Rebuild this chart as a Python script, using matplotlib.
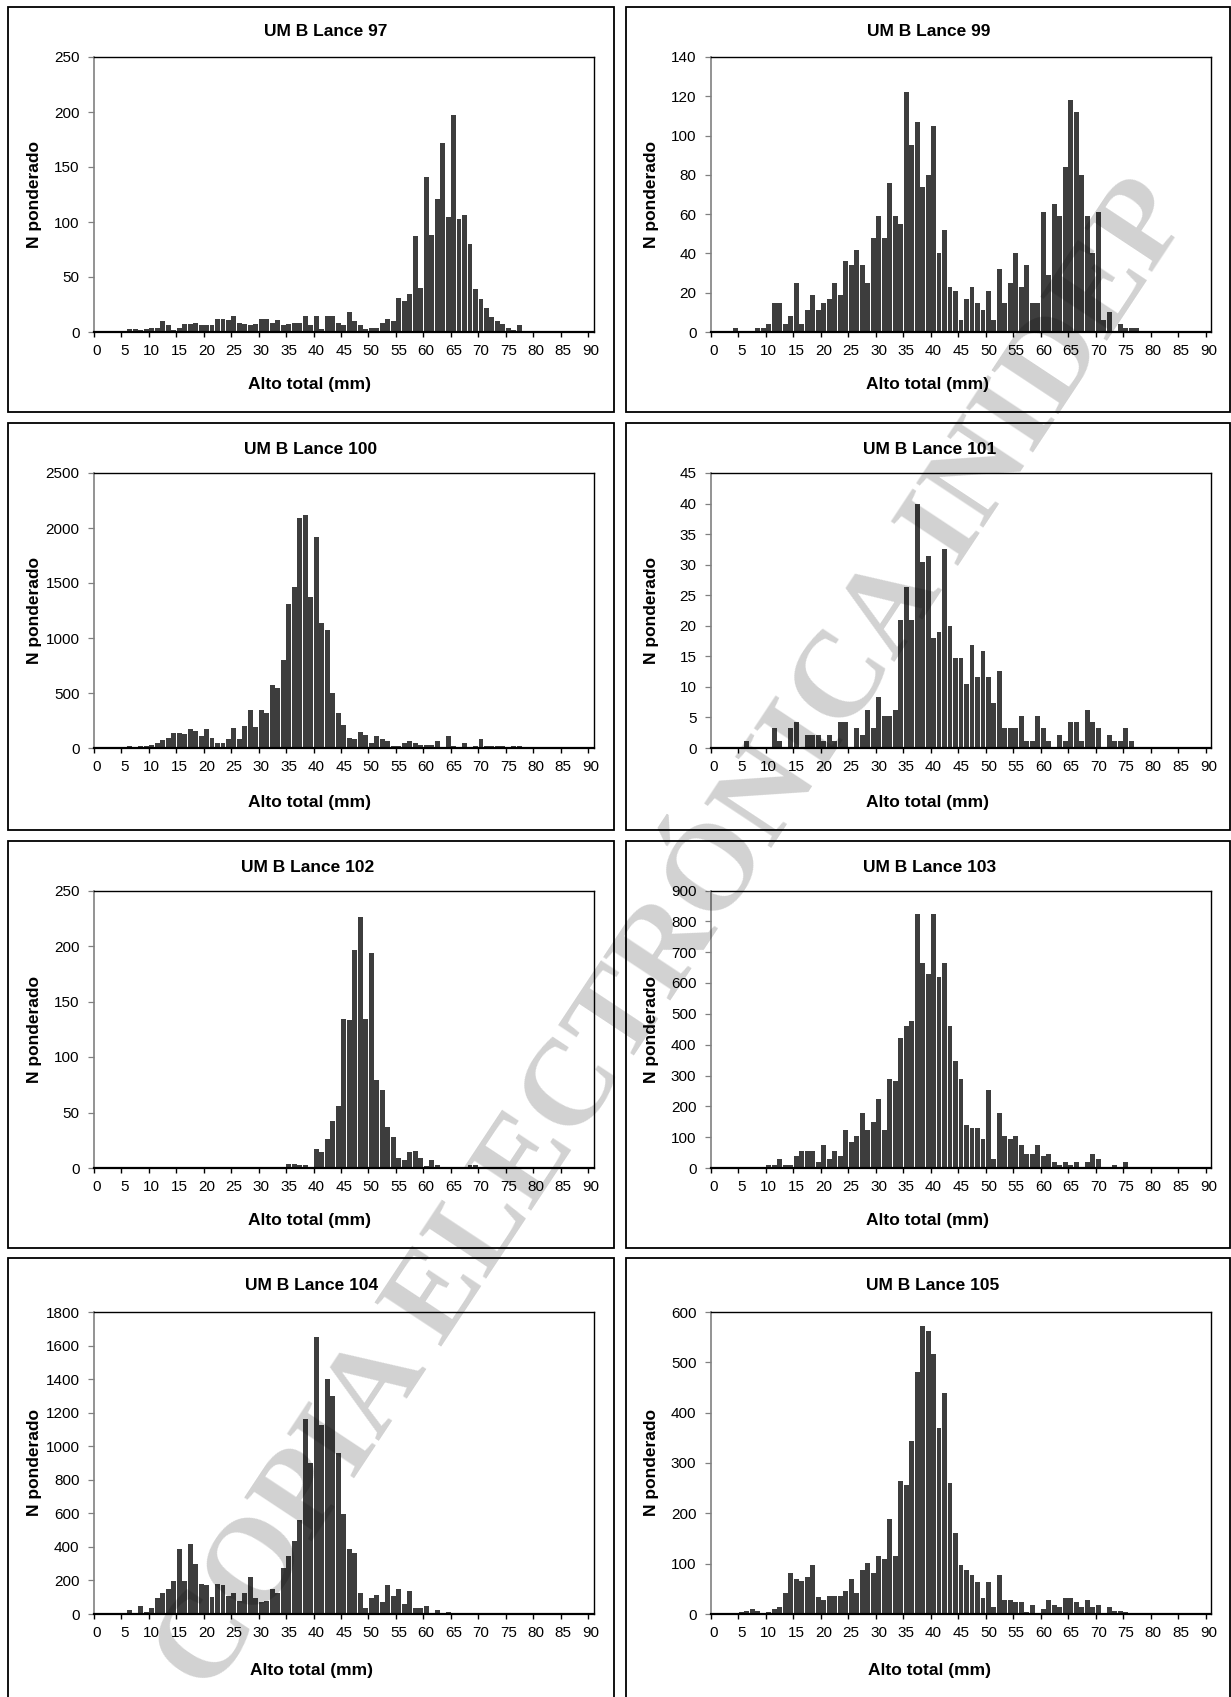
import matplotlib
matplotlib.use('Agg')
import matplotlib.pyplot as plt
from matplotlib.patches import Rectangle
import numpy as np

plt.rcParams['font.family'] = ['Liberation Sans', 'DejaVu Sans']

# ---------------- data ----------------
sizes = list(range(91))                      # Alto total (mm) classes 0..90
tick_values = list(range(0, 91, 5))
tick_labels = [str(v) for v in tick_values]

titles = ["UM B Lance 97", "UM B Lance 99", "UM B Lance 100", "UM B Lance 101",
          "UM B Lance 102", "UM B Lance 103", "UM B Lance 104", "UM B Lance 105"]

lance97 = [0, 0, 0, 0, 0, 0, 3, 3, 2, 3,
           4, 4, 10, 6, 2, 4, 7, 7, 8, 6,
           6, 6, 12, 12, 11, 15, 8, 7, 6, 7,
           12, 12, 8, 11, 6, 7, 8, 8, 15, 6,
           15, 3, 15, 15, 8, 6, 18, 10, 6, 3,
           4, 4, 8, 12, 10, 31, 28, 35, 87, 40,
           141, 88, 121, 172, 105, 197, 103, 106, 80, 39,
           30, 22, 14, 10, 7, 4, 2, 6, 0, 0,
           0, 0, 0, 0, 0, 0, 0, 0, 0, 0,
           0]

lance99 = [0, 0, 0, 0, 2, 0, 0, 0, 2, 2,
           4, 15, 15, 4, 8, 25, 4, 11, 19, 11,
           15, 17, 25, 19, 36, 34, 42, 34, 25, 48,
           59, 48, 76, 59, 55, 122, 95, 107, 74, 80,
           105, 40, 52, 23, 21, 6, 17, 23, 15, 11,
           21, 6, 32, 15, 25, 40, 23, 34, 15, 15,
           61, 29, 65, 59, 84, 118, 112, 80, 59, 40,
           61, 6, 10, 0, 4, 2, 2, 2, 0, 0,
           0, 0, 0, 0, 0, 0, 0, 0, 0, 0,
           0]

lance100 = [0, 0, 0, 0, 0, 0, 15, 0, 15, 15,
            30, 45, 75, 95, 140, 140, 125, 170, 155, 110,
            170, 95, 50, 50, 80, 185, 80, 200, 350, 190,
            350, 320, 570, 550, 800, 1310, 1460, 2090, 2120, 1370,
            1920, 1140, 1070, 500, 320, 210, 90, 80, 150, 120,
            50, 110, 80, 60, 15, 15, 50, 60, 50, 30,
            30, 30, 60, 0, 110, 15, 0, 50, 0, 15,
            80, 15, 15, 15, 15, 0, 15, 15, 0, 0,
            0, 0, 0, 0, 0, 0, 0, 0, 0, 0,
            0]

lance101 = [0, 0, 0, 0, 0, 0, 1.1, 0, 0, 0,
            0, 3.2, 1.1, 0, 3.2, 4.2, 0, 2.1, 2.1, 2.1,
            1.1, 2.1, 1.1, 4.2, 4.2, 0, 3.2, 2.1, 6.3, 3.2,
            8.4, 5.3, 5.3, 6.3, 21.0, 26.3, 21.0, 40.0, 30.5, 31.5,
            18.0, 19.0, 32.6, 20.0, 14.8, 14.8, 10.5, 16.8, 11.6, 15.8,
            11.6, 7.4, 12.6, 3.2, 3.2, 3.2, 5.3, 1.1, 1.1, 5.3,
            3.2, 1.1, 0, 2.1, 1.1, 4.2, 4.2, 1.1, 6.3, 4.2,
            3.2, 0, 2.1, 1.1, 1.1, 3.2, 1.1, 0, 0, 0,
            0, 0, 0, 0, 0, 0, 0, 0, 0, 0,
            0]

lance102 = [0, 0, 0, 0, 0, 0, 0, 0, 0, 0,
            0, 0, 0, 0, 0, 0, 0, 1, 1, 0,
            0, 0, 0, 0, 0, 0, 0, 1, 0, 0,
            1, 0, 0, 0, 1, 4, 4, 3, 3, 0,
            17, 14, 26, 42, 56, 134, 133, 196, 226, 134,
            194, 79, 70, 37, 28, 9, 7, 14, 15, 9,
            2, 7, 3, 1, 0, 1, 1, 0, 3, 3,
            1, 0, 1, 0, 0, 0, 1, 0, 0, 0,
            0, 0, 0, 0, 0, 0, 0, 0, 0, 0,
            0]

lance103 = [0, 0, 0, 0, 0, 0, 0, 0, 0, 0,
            10, 10, 28, 10, 10, 38, 56, 56, 56, 19,
            75, 28, 56, 38, 122, 85, 103, 178, 122, 150,
            225, 122, 290, 281, 422, 459, 478, 825, 665, 628,
            825, 618, 665, 459, 347, 290, 140, 131, 131, 94,
            253, 28, 178, 103, 94, 103, 75, 47, 47, 75,
            38, 47, 19, 10, 19, 10, 19, 0, 19, 47,
            28, 0, 0, 10, 0, 19, 0, 0, 0, 0,
            0, 0, 0, 0, 0, 0, 0, 0, 0, 0,
            0]

lance104 = [0, 0, 0, 0, 0, 0, 25, 0, 45, 10,
            35, 95, 125, 150, 195, 390, 195, 420, 300, 180,
            170, 100, 180, 170, 105, 125, 80, 125, 220, 95,
            70, 80, 150, 125, 275, 345, 435, 560, 1160, 900,
            1650, 1125, 1400, 1300, 960, 595, 390, 365, 125, 35,
            95, 115, 70, 175, 105, 150, 60, 140, 35, 35,
            45, 0, 25, 0, 10, 0, 0, 0, 0, 0,
            0, 0, 0, 0, 0, 0, 0, 0, 0, 0,
            0, 0, 0, 0, 0, 0, 0, 0, 0, 0,
            0]

lance105 = [0, 0, 0, 0, 0, 4, 5, 9, 5, 0,
            4, 9, 14, 41, 82, 69, 65, 73, 97, 33,
            28, 36, 36, 36, 46, 69, 41, 87, 101, 82,
            115, 110, 188, 115, 265, 256, 343, 480, 572, 563,
            517, 370, 439, 261, 161, 97, 87, 78, 64, 32,
            64, 14, 78, 28, 28, 23, 23, 4, 18, 0,
            9, 28, 18, 14, 32, 32, 23, 14, 28, 14,
            18, 0, 14, 5, 5, 4, 0, 0, 0, 0,
            0, 0, 0, 0, 0, 0, 0, 0, 0, 0,
            0]

series = [lance97, lance99, lance100, lance101, lance102, lance103, lance104, lance105]
y_max = [250, 140, 2500, 45, 250, 900, 1800, 600]
y_step = [50, 20, 500, 5, 50, 100, 200, 100]

# ---------------- layout (pixels) ----------------
W, H = 1231, 1697
fig = plt.figure(figsize=(W / 100, H / 100), dpi=100)
fig.patch.set_facecolor('white')

col_plot_x = [(94, 593.5), (711, 1211)]
row_plot_y = [(57, 332), (473, 748), (890.5, 1168), (1312, 1614)]
col_border_x = [(7.5, 614), (626, 1229.5)]
row_border_y = [(7.5, 411.5), (423, 830), (841, 1248), (1258, 1720)]
title_y = [32, 450, 867, 1285]
title_x = [[326, 929], [311, 929.5], [308, 930], [312, 933]]
xlabel_y = [384, 802, 1220, 1671]
xlabel_x = [[309, 927], [309, 928], [310, 928], [312, 929]]
ylabel_x = [35, 652]


def fx(x):
    return x / W


def fy(y):
    return 1 - y / H


bold = dict(fontsize=12.5, fontweight='bold', color='black')

for i, vals in enumerate(series):
    r, c = divmod(i, 2)
    # panel border
    bx0, bx1 = col_border_x[c]
    by0, by1 = row_border_y[r]
    fig.add_artist(Rectangle((fx(bx0), fy(by1)), fx(bx1) - fx(bx0), fy(by0) - fy(by1),
                             transform=fig.transFigure, facecolor='none',
                             edgecolor='black', linewidth=1.3, zorder=1))
    x0, x1 = col_plot_x[c]
    y0, y1 = row_plot_y[r]
    ax = fig.add_axes([fx(x0), fy(y1), fx(x1) - fx(x0), fy(y0) - fy(y1)])
    ax.bar(sizes, vals, width=0.9, color='#3d3d3d', edgecolor='none', zorder=2)
    ax.set_xlim(-0.5, 90.5)
    ax.set_ylim(0, y_max[i])
    ax.set_yticks(np.arange(0, y_max[i] + y_step[i] / 2, y_step[i]))
    ax.set_xticks(tick_values)
    ax.set_xticklabels(tick_labels)
    ax.set_xticks(np.arange(-0.5, 90, 5), minor=True)
    ax.tick_params(axis='x', which='major', length=0, pad=8.5, labelsize=11)
    ax.tick_params(axis='x', which='minor', length=3.8, width=1.0, color='black',
                   direction='out')
    ax.tick_params(axis='y', which='major', length=4.0, width=0.9, color='#808080',
                   direction='out', pad=6.5, labelsize=11)
    for s in ['top', 'right']:
        ax.spines[s].set_color('black')
        ax.spines[s].set_linewidth(1.0)
    ax.spines['left'].set_color('#808080')
    ax.spines['left'].set_linewidth(1.2)
    ax.spines['bottom'].set_color('black')
    ax.spines['bottom'].set_linewidth(1.6)
    ax.set_facecolor('white')

    fig.text(fx(title_x[r][c]), fy(title_y[r]), titles[i], ha='center', va='center', **bold)
    fig.text(fx(xlabel_x[r][c]), fy(xlabel_y[r]), 'Alto total (mm)', ha='center',
             va='center', **bold)
    fig.text(fx(ylabel_x[c]), fy((y0 + y1) / 2), 'N ponderado', ha='center', va='center',
             rotation=90, **bold)

# watermark
fig.text(fx(677), fy(938), 'COPIA ELECTRÓNICA INIDEP', fontsize=88, fontweight='bold',
         family=['Liberation Serif', 'DejaVu Serif'], rotation=56.5, rotation_mode='anchor',
         ha='center', va='center', color='black', alpha=0.18, zorder=100)

fig.savefig('out.png', dpi=100, facecolor='white')
